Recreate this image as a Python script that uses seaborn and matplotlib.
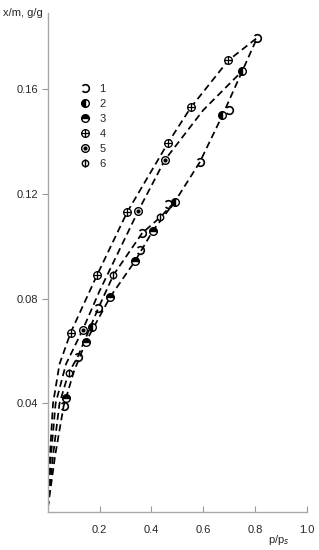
import matplotlib
matplotlib.use("Agg")
import matplotlib.pyplot as plt
import seaborn as sns
import pandas as pd
from matplotlib.path import Path
from matplotlib.lines import Line2D

sns.set_style("white")
plt.rcParams['font.family'] = ['Liberation Sans', 'DejaVu Sans']

# dashed isotherm curves (p/ps, x/m)
c1_x = [0, 0.008, 0.02, 0.045, 0.088, 0.19, 0.306, 0.464, 0.552, 0.697, 0.808]
c1_y = [0, 0.02, 0.04, 0.055, 0.067, 0.089, 0.113, 0.1395, 0.153, 0.171, 0.1796]
c2_x = [0, 0.012, 0.03, 0.07, 0.134, 0.2, 0.349, 0.452, 0.6, 0.751]
c2_y = [0, 0.02, 0.04, 0.055, 0.068, 0.083, 0.1135, 0.133, 0.152, 0.167]
c3_x = [0, 0.02, 0.045, 0.08, 0.115, 0.195, 0.253, 0.364, 0.433, 0.49]
c3_y = [0, 0.02, 0.04, 0.0516, 0.0577, 0.0764, 0.089, 0.105, 0.111, 0.117]
c4_x = [0, 0.028, 0.061, 0.1, 0.146, 0.241, 0.337, 0.406, 0.49, 0.586, 0.674, 0.751, 0.808]
c4_y = [0, 0.02, 0.039, 0.052, 0.0634, 0.0807, 0.0944, 0.106, 0.117, 0.132, 0.15, 0.167, 0.1796]

# measured points per sample
s1_x = [0.808, 0.70, 0.586, 0.465, 0.364, 0.356, 0.195, 0.115, 0.061]
s1_y = [0.1796, 0.152, 0.132, 0.116, 0.105, 0.0985, 0.0764, 0.0577, 0.039]
s2_x = [0.751, 0.674, 0.49, 0.172]
s2_y = [0.167, 0.150, 0.117, 0.069]
s3_x = [0.406, 0.337, 0.241, 0.146, 0.069]
s3_y = [0.106, 0.0944, 0.0807, 0.0634, 0.042]
s4_x = [0.088, 0.19, 0.306, 0.464, 0.552, 0.697]
s4_y = [0.067, 0.089, 0.113, 0.1395, 0.153, 0.171]
s5_x = [0.134, 0.349, 0.452]
s5_y = [0.068, 0.1135, 0.133]
s6_x = [0.08, 0.253, 0.433]
s6_y = [0.0516, 0.089, 0.111]

labels = ['1', '2', '3', '4', '5', '6']
y_ticks = [0.04, 0.08, 0.12, 0.16]
x_ticks = [0.2, 0.4, 0.6, 0.8, 1.0]

# marker shapes
arc = Path.arc(-140, 140)
circ = Path.unit_circle()
cross = Path([[-1, 0], [1, 0], [0, -1], [0, 1]],
             [Path.MOVETO, Path.LINETO, Path.MOVETO, Path.LINETO])
vline = Path([[0, -1.2], [0, 1.2]], [Path.MOVETO, Path.LINETO])
m_plus = Path.make_compound_path(circ, cross)
m_phi = Path.make_compound_path(circ, vline)

MS = 5.5
styles = [
    dict(marker=arc, mfc='none', mec='black', mew=1.2, ms=MS),
    dict(marker='o', fillstyle='left', mfc='black', mfcalt='white', mec='black', mew=1.0, ms=MS),
    dict(marker='o', fillstyle='top', mfc='black', mfcalt='white', mec='black', mew=1.0, ms=MS),
    dict(marker=m_plus, mfc='white', mec='black', mew=0.9, ms=MS),
    dict(marker='o', mfc='white', mec='black', mew=1.0, ms=MS),
    dict(marker=m_phi, mfc='white', mec='black', mew=1.0, ms=MS),
]
dot_style = dict(marker='o', ms=2.0, color='black')

fig = plt.figure(figsize=(3.19, 5.5), dpi=100)
ax = fig.add_axes([0.150, 0.069, 0.812, 0.907])

curves = [(c1_x, c1_y), (c2_x, c2_y), (c3_x, c3_y), (c4_x, c4_y)]
for cx, cy in curves:
    d = pd.DataFrame({'x': cx, 'y': cy})
    sns.lineplot(data=d, x='x', y='y', ax=ax, sort=False, estimator=None,
                 color='black', lw=1.25, zorder=2)
    ax.lines[-1].set_dashes((4, 2.4))

series = [(s1_x, s1_y), (s2_x, s2_y), (s3_x, s3_y),
          (s4_x, s4_y), (s5_x, s5_y), (s6_x, s6_y)]
for (sx, sy), st in zip(series, styles):
    ax.plot(sx, sy, ls='none', zorder=3, **st)
# centre dot for sample 5
ax.plot(s5_x, s5_y, ls='none', zorder=4, **dot_style)

handles = [Line2D([], [], ls='none', **st) for st in styles]
handles[4] = (handles[4], Line2D([], [], ls='none', **dot_style))
ax.legend(handles, labels, loc='upper left', bbox_to_anchor=(0.10, 0.87),
          frameon=False, fontsize=8, handlelength=1.0, handletextpad=0.8,
          labelspacing=0.45, borderpad=0)

ax.set_xlim(0, 1.0)
ax.set_ylim(-0.0015, 0.189)
ax.set_xticks(x_ticks)
ax.set_xticklabels(['0.2', '0.4', '0.6', '0.8', '1.0'], fontsize=8)
ax.set_yticks(y_ticks)
ax.set_yticklabels(['0.04', '0.08', '0.12', '0.16'], fontsize=8)
ax.tick_params(axis='x', direction='in', length=4, color='#999999', pad=9, bottom=True)
ax.tick_params(axis='y', direction='out', length=4, color='#999999', pad=3, left=True)
sns.despine(ax=ax)
for s in ['left', 'bottom']:
    ax.spines[s].set_color('#aaaaaa')
    ax.spines[s].set_linewidth(1.0)
ax.set_xlabel('')
ax.set_ylabel('')
fig.text(0.01, 0.985, 'x/m, g/g', fontsize=8, va='top', ha='left')
fig.text(0.875, 0.005, r'p/p$_s$', fontsize=8, va='bottom', ha='center')

fig.savefig('out.png', dpi=100)
